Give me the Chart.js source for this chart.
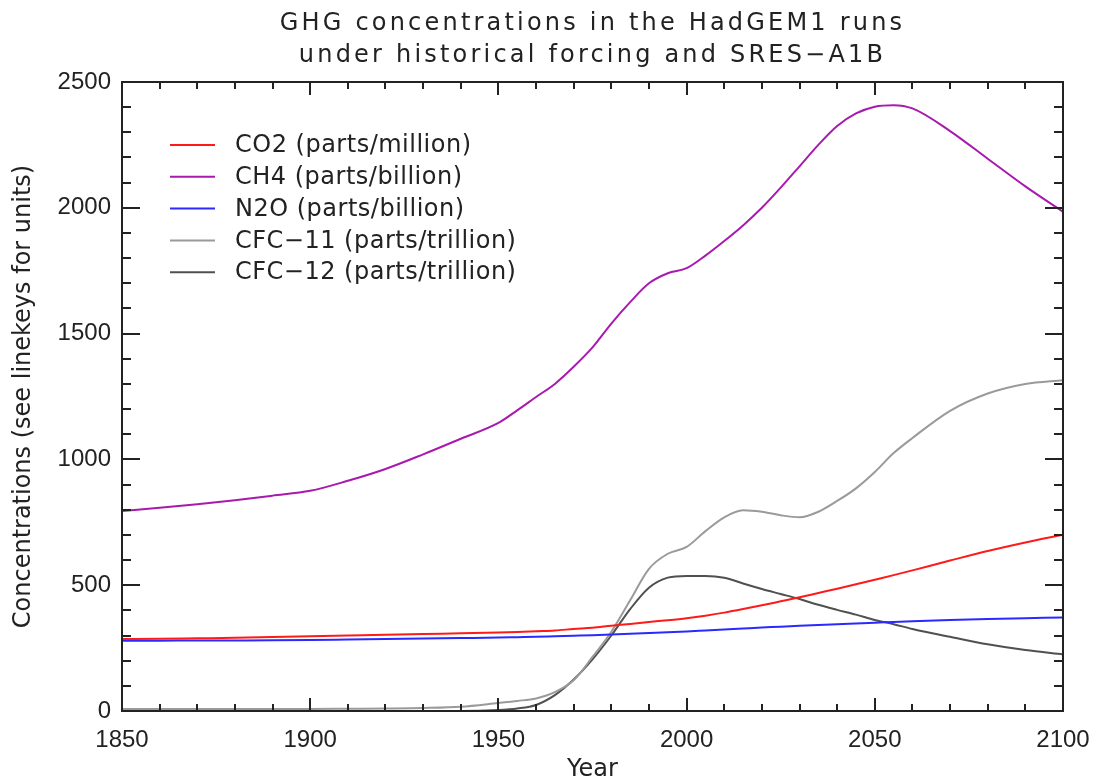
<!DOCTYPE html>
<html>
<head>
<meta charset="utf-8">
<title>GHG concentrations</title>
<script src="https://cdn.jsdelivr.net/npm/chart.js@4.4.0/dist/chart.umd.min.js"></script>
<style>
  html, body { margin: 0; padding: 0; background: #fff; }
  #wrap { width: 1095px; height: 780px; }
</style>
</head>
<body>
<div id="wrap"><canvas id="ghgChart" width="1095" height="780"></canvas></div>
<script>
// chart data
const titleLines = ['GHG concentrations in the HadGEM1 runs', 'under historical forcing and SRES\u2212A1B'];
const xTitle = 'Year';
const yTitle = 'Concentrations (see linekeys for units)';

const years = [1850, 1860, 1870, 1880, 1890, 1900, 1910, 1920, 1930, 1940,
               1950, 1955, 1960, 1965, 1970, 1975, 1980, 1985, 1990, 1995,
               2000, 2005, 2010, 2015, 2020, 2025, 2030, 2035, 2040, 2045,
               2050, 2055, 2060, 2070, 2080, 2090, 2100];

const co2 = [286, 287, 289, 291, 294, 297, 300, 303, 306, 309,
             312, 314, 317, 320, 326, 331, 339, 346, 354, 361,
             369, 379, 391, 405, 420, 436, 452, 469, 486, 504,
             522, 540, 559, 598, 636, 670, 701];

const ch4 = [795, 808, 822, 838, 856, 875, 915, 962, 1020, 1082,
             1145, 1195, 1248, 1300, 1368, 1445, 1540, 1625, 1700, 1740,
             1760, 1810, 1868, 1930, 2000, 2080, 2165, 2250, 2325, 2375,
             2402, 2408, 2395, 2305, 2195, 2085, 1984];

const n2o = [279, 279.5, 280, 280.5, 281, 282, 284, 286, 288, 290,
             292, 293.5, 295, 297, 299, 301, 304, 307, 310, 313,
             316, 320, 324, 328, 332, 335, 339, 342, 345, 348,
             351, 354, 357, 362, 366, 369, 372];

const cfc11 = [8, 8, 8, 8, 8, 8, 9, 10, 12, 17,
               32, 40, 50, 75, 122, 215, 315, 440, 565, 625,
               652, 715, 770, 798, 792, 778, 770, 792, 835, 885,
               950, 1025, 1085, 1193, 1262, 1300, 1315];

const cfc12 = [0, 0, 0, 0, 0, 0, 0, 0, 0, 0,
               4, 10, 24, 63, 125, 205, 300, 405, 490, 530,
               537, 537, 530, 507, 485, 465, 445, 422, 402, 383,
               362, 345, 326, 295, 265, 242, 225];

const seriesNames = ['CO2 (parts/million)', 'CH4 (parts/billion)', 'N2O (parts/billion)',
                     'CFC\u221211 (parts/trillion)', 'CFC\u221212 (parts/trillion)'];
const seriesColors = ['#ff1a1a', '#a81aae', '#2a2aff', '#9a9a9a', '#505050'];

const xTickStep = 50, xMinorStep = 10;
const yTickStep = 500, yMinorStep = 100;

function toPoints(vals) {
    return years.map((yr, i) => ({x: yr, y: vals[i]}));
}

const datasets = [co2, ch4, n2o, cfc11, cfc12].map((vals, i) => ({
    label: seriesNames[i],
    data: toPoints(vals),
    borderColor: seriesColors[i],
    backgroundColor: seriesColors[i],
    borderWidth: 2,
    pointRadius: 0,
    fill: false,
    cubicInterpolationMode: 'monotone'
}));

// frame with inward ticks on all four sides, legend box and title
const idlFrame = {
    id: 'idlFrame',
    afterDatasetsDraw(chart) {
        const {ctx, chartArea: a, scales: {x, y}} = chart;
        ctx.save();
        ctx.strokeStyle = '#222';
        ctx.lineWidth = 2;
        ctx.beginPath();
        for (let v = x.min; v <= x.max; v += xMinorStep) {
            const px = Math.round(x.getPixelForValue(v));
            const len = v % xTickStep === 0 ? 13 : 7;
            ctx.moveTo(px, a.bottom); ctx.lineTo(px, a.bottom - len);
            ctx.moveTo(px, a.top); ctx.lineTo(px, a.top + len);
        }
        for (let v = y.min; v <= y.max; v += yMinorStep) {
            const py = Math.round(y.getPixelForValue(v));
            const len = v % yTickStep === 0 ? 18 : 9;
            ctx.moveTo(a.left, py); ctx.lineTo(a.left + len, py);
            ctx.moveTo(a.right, py); ctx.lineTo(a.right - len, py);
        }
        ctx.stroke();
        ctx.strokeRect(a.left, a.top, a.right - a.left, a.bottom - a.top);
        ctx.restore();
    },
    afterDraw(chart) {
        const ctx = chart.ctx;
        ctx.save();
        // legend
        ctx.font = '24px "DejaVu Sans"';
        ctx.letterSpacing = '0.5px';
        ctx.textBaseline = 'middle';
        ctx.textAlign = 'left';
        chart.data.datasets.forEach((ds, i) => {
            const ly = 145 + i * 31.8;
            ctx.strokeStyle = ds.borderColor;
            ctx.lineWidth = 2;
            ctx.beginPath();
            ctx.moveTo(170, ly); ctx.lineTo(215, ly);
            ctx.stroke();
            ctx.fillStyle = '#222';
            ctx.fillText(ds.label, 235, ly + 1);
        });
        // title
        const cx = (chart.chartArea.left + chart.chartArea.right) / 2;
        ctx.font = '24px "DejaVu Sans"';
        ctx.letterSpacing = '3.2px';
        ctx.textBaseline = 'alphabetic';
        ctx.fillStyle = '#222';
        titleLines.forEach((line, i) => {
            const w = ctx.measureText(line).width;
            ctx.fillText(line, cx - w / 2, 30 + i * 32);
        });
        ctx.restore();
    }
};

new Chart(document.getElementById('ghgChart').getContext('2d'), {
    type: 'line',
    data: { datasets: datasets },
    options: {
        responsive: false,
        animation: false,
        devicePixelRatio: 1,
        layout: { padding: { left: 0, right: 32, top: 82, bottom: 0 } },
        plugins: {
            legend: { display: false },
            title: { display: false },
            tooltip: { enabled: false }
        },
        scales: {
            x: {
                type: 'linear',
                min: 1850,
                max: 2100,
                grid: { display: false, drawTicks: false },
                border: { display: false },
                ticks: {
                    stepSize: xTickStep,
                    padding: 15,
                    color: '#222',
                    maxRotation: 0,
                    font: { family: '"Liberation Sans", Arial', size: 24 },
                    callback: v => String(v)
                },
                title: {
                    display: true,
                    text: xTitle,
                    color: '#222',
                    padding: { top: 0, bottom: -2 },
                    font: { family: '"DejaVu Sans"', size: 24, lineHeight: 1 }
                },
                afterFit: s => { s.height = 69; s.paddingLeft = 0; s.paddingRight = 0; }
            },
            y: {
                min: 0,
                max: 2500,
                grid: { display: false, drawTicks: false },
                border: { display: false },
                ticks: {
                    stepSize: yTickStep,
                    padding: 11,
                    color: '#222',
                    font: { family: '"Liberation Sans", Arial', size: 24 },
                    callback: v => String(v)
                },
                title: {
                    display: true,
                    text: yTitle,
                    color: '#222',
                    padding: { top: 12, bottom: 0 },
                    font: { family: '"DejaVu Sans"', size: 24, lineHeight: 1 }
                },
                afterFit: s => { s.width = 122; }
            }
        }
    },
    plugins: [idlFrame]
});
</script>
</body>
</html>
